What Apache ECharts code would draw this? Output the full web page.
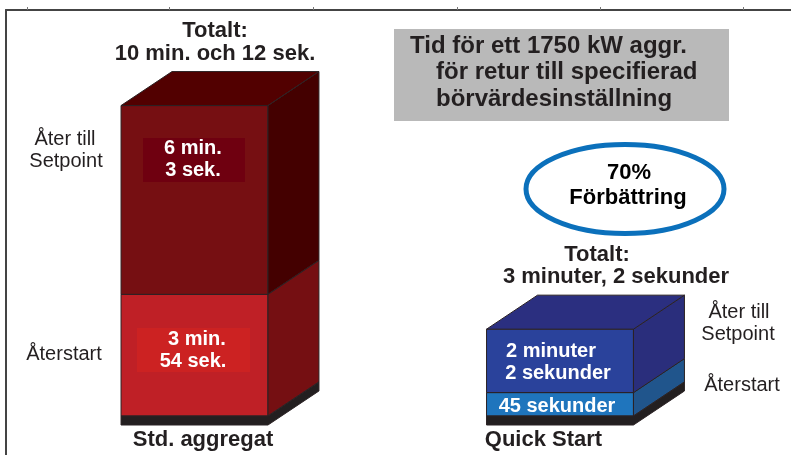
<!DOCTYPE html>
<html><head><meta charset="utf-8">
<style>html,body{margin:0;padding:0;background:#fff}#c{width:791px;height:455px}</style>
<script src="https://cdn.jsdelivr.net/npm/echarts@6/dist/echarts.min.js"></script>
</head><body><div id="c"></div>
<script>
const categories = ['Std. aggregat', 'Quick Start'];
const restartSeconds = [234, 45];
const setpointSeconds = [363, 122];
const totalLabels = [['Totalt:', '10 min. och 12 sek.'], ['Totalt:', '3 minuter, 2 sekunder']];
const setpointLabels = [['6 min.', '3 sek.'], ['2 minuter', '2 sekunder']];
const restartLabels = [['3 min.', '54 sek.'], ['45 sekunder']];
const sideSetpoint = ['Åter till', 'Setpoint'];
const sideRestart = 'Återstart';
const heading = ['Tid för ett 1750 kW aggr.', 'för retur till specifierad', 'börvärdesinställning'];
const badge = ['70%', 'Förbättring'];
const frameTicks = [21, 163, 307, 451, 594, 737];

const INK = '#231f20', EDGE = '#2b2224';
const palette = {
  setpoint: [
    {front: '#760f12', side: '#440000', top: '#520000'},
    {front: '#2a429b', side: '#2a2e7c', top: '#2b2f80'}
  ],
  restart: [
    {front: '#bf2026', side: '#750f12'},
    {front: '#1f75bd', side: '#20558c'}
  ]
};

function box(kind) {
  return function (params, api) {
    const cat = api.value(0);
    const cols = palette[kind][cat];
    const lo = api.coord([cat, api.value(1)]);
    const hi = api.coord([cat, api.value(2)]);
    const w = api.size([1, 0])[0] * 0.402;
    const dx = w * 0.347, dy = dx * 0.667;
    const L = lo[0] - w / 2, R = lo[0] + w / 2;
    const stroke = {stroke: EDGE, lineWidth: 1};
    const poly = (pts, fill) => ({type: 'polygon', shape: {points: pts}, style: Object.assign({fill}, stroke)});
    const kids = [
      poly([[L, hi[1]], [R, hi[1]], [R, lo[1]], [L, lo[1]]], cols.front),
      poly([[R, hi[1]], [R + dx, hi[1] - dy], [R + dx, lo[1] - dy], [R, lo[1]]], cols.side)
    ];
    if (kind === 'setpoint') {
      kids.push(poly([[L, hi[1]], [L + dx, hi[1] - dy], [R + dx, hi[1] - dy], [R, hi[1]]], cols.top));
    } else {
      const p = 9;
      kids.push({type: 'polygon', shape: {points: [[L, lo[1]], [R, lo[1]], [R + dx, lo[1] - dy], [R + dx, lo[1] - dy + p], [R, lo[1] + p], [L, lo[1] + p]]}, style: {fill: INK, stroke: EDGE, lineWidth: 1}});
    }
    return {type: 'group', children: kids};
  };
}

const FONT = '"Liberation Sans", Arial, sans-serif';
const txt = (s, x, y, size, opt) => Object.assign({
  type: 'text', z: 100, x, y,
  style: Object.assign({text: s, font: (opt && opt.w || 'bold') + ' ' + size + 'px ' + FONT, fill: INK, textAlign: 'center', textVerticalAlign: 'middle'}, opt && opt.s)
});
const white = {s: {fill: '#ffffff'}};
const left = {s: {textAlign: 'left'}};
const plain = {w: 'normal'};
const rect = (x, y, width, height, fill) => ({type: 'rect', z: 90, shape: {x, y, width, height}, style: {fill}});

const graphics = [
  rect(394, 29, 335, 92, '#b9b9b9'),
  {type: 'ellipse', z: 90, shape: {cx: 625, cy: 189, rx: 99, ry: 44.5}, style: {fill: '#fff', stroke: '#0b70bb', lineWidth: 5}},
  rect(143, 138, 102, 44, '#6f0010'),
  rect(137, 328, 113, 44, '#cc2222'),
  txt(totalLabels[0][0], 215, 31, 22),
  txt(totalLabels[0][1], 215, 54, 22),
  txt(totalLabels[1][0], 597, 255, 22),
  txt(totalLabels[1][1], 616, 277, 22),
  txt(heading[0], 410, 46, 24, left),
  txt(heading[1], 436, 72, 24, left),
  txt(heading[2], 436, 99, 24, left),
  txt(badge[0], 629, 173, 22, {s: {fill: '#000'}}),
  txt(badge[1], 628, 198, 22, {s: {fill: '#000'}}),
  txt(setpointLabels[0][0], 193, 148, 20, white),
  txt(setpointLabels[0][1], 193, 170, 20, white),
  txt(restartLabels[0][0], 197, 339, 20, white),
  txt(restartLabels[0][1], 193, 361, 20, white),
  txt(setpointLabels[1][0], 551, 351, 20, white),
  txt(setpointLabels[1][1], 558, 373, 20, white),
  txt(restartLabels[1][0], 557, 406, 20, white),
  txt(sideSetpoint[0], 65, 139, 20, plain),
  txt(sideSetpoint[1], 66, 161, 20, plain),
  txt(sideRestart, 64, 354, 20, plain),
  txt(sideSetpoint[0], 739, 312, 20, plain),
  txt(sideSetpoint[1], 738, 334, 20, plain),
  txt(sideRestart, 742, 385, 20, plain),
  txt(categories[0], 203, 440, 22),
  txt(categories[1], 543.5, 440, 22)
];

const chart = echarts.init(document.getElementById('c'), null, {renderer: 'canvas'});
chart.setOption({
  animation: false,
  grid: [
    {left: 6, top: 10, right: 0, bottom: 0},
    {left: 11.75, right: 48.25, top: 52, bottom: 39}
  ],
  xAxis: [
    {gridIndex: 0, type: 'value', position: 'top', min: 0, max: 785, splitLine: {show: false},
      axisLabel: {show: false},
      axisLine: {show: true, onZero: false, lineStyle: {color: '#444', width: 2}},
      axisTick: {show: true, customValues: frameTicks, length: 3, lineStyle: {color: '#777', width: 1}}},
    {gridIndex: 1, type: 'category', data: categories, show: false}
  ],
  yAxis: [
    {gridIndex: 0, type: 'value', min: 0, max: 1, splitLine: {show: false}, axisLabel: {show: false}, axisTick: {show: false},
      axisLine: {show: true, onZero: false, lineStyle: {color: '#444', width: 2}}},
    {gridIndex: 1, type: 'value', min: 0, max: 700, show: false}
  ],
  graphic: graphics,
  series: [
    {type: 'custom', name: 'Återstart', xAxisIndex: 1, yAxisIndex: 1, renderItem: box('restart'), clip: false,
      data: categories.map((c, i) => [i, 0, restartSeconds[i]]), encode: {x: 0, y: [1, 2]}},
    {type: 'custom', name: 'Åter till Setpoint', xAxisIndex: 1, yAxisIndex: 1, renderItem: box('setpoint'), clip: false,
      data: categories.map((c, i) => [i, restartSeconds[i], restartSeconds[i] + setpointSeconds[i]]), encode: {x: 0, y: [1, 2]}}
  ]
});
</script></body></html>
